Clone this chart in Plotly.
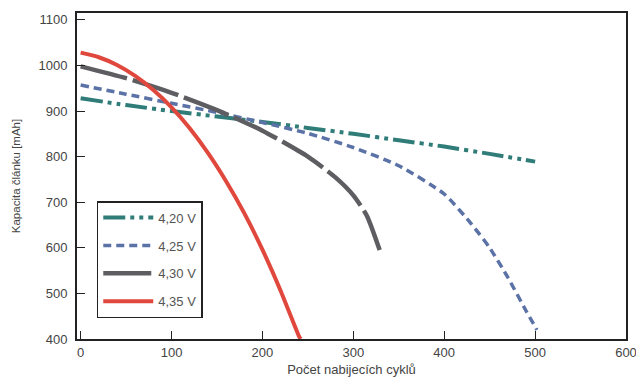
import plotly.graph_objects as go

# 4.20 V
x_420 = [0, 50, 100, 150, 200, 250, 300, 350, 400, 450, 500]
y_420 = [928, 913, 900, 888, 876, 863, 850, 836, 822, 806, 789]
# 4.25 V
x_425 = [0, 50, 100, 150, 200, 250, 300, 350, 400, 430, 450, 470, 490, 502]
y_425 = [957, 937, 917, 897, 875, 851, 820, 780, 718, 652, 600, 535, 462, 420]
# 4.30 V
x_430 = [0, 50, 100, 150, 200, 250, 280, 300, 315, 329]
y_430 = [998, 972, 940, 902, 857, 800, 755, 715, 670, 595]
# 4.35 V
x_435 = [0, 20, 40, 60, 80, 100, 120, 140, 160, 180, 200, 220, 240, 242]
y_435 = [1028, 1018, 1001, 977, 946, 908, 862, 808, 746, 676, 596, 506, 407, 400]

names = ["4,20 V", "4,25 V", "4,30 V", "4,35 V"]
xs = [x_420, x_425, x_430, x_435]
ys = [y_420, y_425, y_430, y_435]
colors = ["#2f7c78", "#5b72a6", "#5e5e62", "#e0483e"]
dashes = ["22px,5px,4px,5px,4px,5px", "8px,5px", "48px,6px", "solid"]
widths = [4, 3.5, 4.5, 4]

fig = go.Figure()
for i in range(4):
    fig.add_trace(go.Scatter(
        x=xs[i], y=ys[i], mode="lines", name=names[i],
        line=dict(color=colors[i], dash=dashes[i], width=widths[i], shape="spline", smoothing=0.6),
        legendgroup=names[i],
    ))

fig.update_layout(
    width=636, height=383,
    margin=dict(l=77, r=10, t=13, b=44),
    paper_bgcolor="white", plot_bgcolor="white",
    font=dict(family="Liberation Sans, Arial, sans-serif", size=12, color="#333"),
    showlegend=True,
    legend=dict(
        x=0.036, y=0.423, xanchor="left", yanchor="top",
        bordercolor="#222", borderwidth=1.5, bgcolor="white",
        font=dict(size=13, color="#555"),
        tracegroupgap=8, itemwidth=50,
    ),
)
fig.update_xaxes(
    range=[-4, 600], tickvals=[0, 100, 200, 300, 400, 500, 600],
    ticks="inside", ticklen=8, tickcolor="#222", tickwidth=1.2,
    showline=True, linecolor="#222", linewidth=1.8, mirror=True,
    showgrid=False, zeroline=False, automargin=False, ticklabeloverflow="allow",
    title=dict(text="Počet nabijecích cyklů", font=dict(size=13, color="#444"), standoff=6),
    tickfont=dict(size=13, color="#444"),
)
fig.update_yaxes(
    range=[400, 1115], tickvals=[400, 500, 600, 700, 800, 900, 1000, 1100],
    ticks="inside", ticklen=8, tickcolor="#222", tickwidth=1.2,
    showline=True, linecolor="#222", linewidth=1.8, mirror=True,
    showgrid=False, zeroline=False, automargin=False, ticklabeloverflow="allow",
    ticklabelstandoff=5,
    title=dict(text="Kapacita článku [mAh]", font=dict(size=11.5, color="#444"), standoff=16),
    tickfont=dict(size=13, color="#444"),
)

fig.write_html(
    "out.html",
    config={"displayModeBar": False},
    post_script="document.body.style.margin='0';document.body.style.overflow='hidden';",
)
